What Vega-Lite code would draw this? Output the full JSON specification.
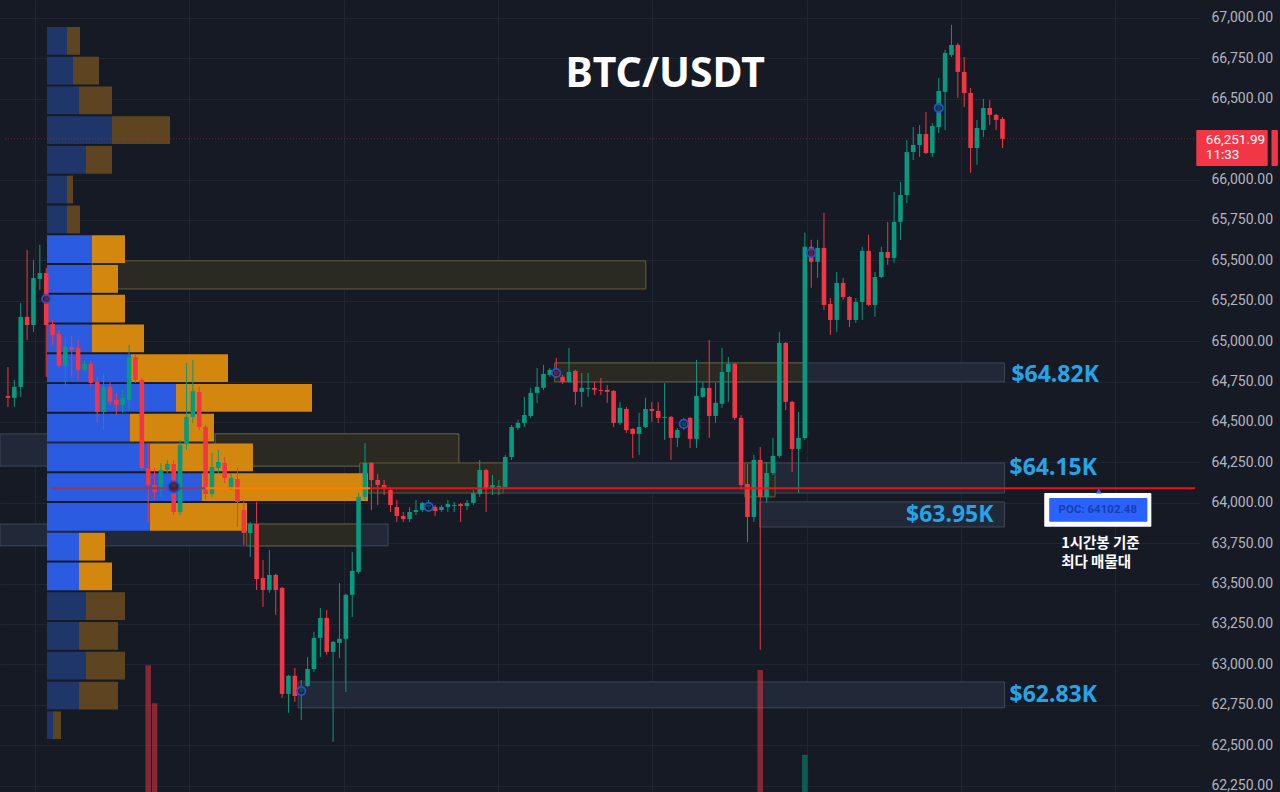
{
  "$schema": "https://vega.github.io/schema/vega-lite/v6.json",
  "width": 1200,
  "height": 792,
  "autosize": {"type": "none"},
  "padding": {"left": 0, "top": 0, "right": 80, "bottom": 0},
  "background": "#161a25",
  "config": {"view": {"stroke": null}, "font": "Roboto"},
  "datasets": {
    "zones": [
      {"kind": "fvg", "x0": -0.47, "x1": 70.9, "p0": 64227, "p1": 64426},
      {"kind": "fvg", "x0": -0.47, "x1": 59.9, "p0": 63733, "p1": 63868},
      {"kind": "fvg", "x0": 85.8, "x1": 155.8, "p0": 64748, "p1": 64865},
      {"kind": "fvg", "x0": 73.4, "x1": 155.8, "p0": 64060, "p1": 64246},
      {"kind": "fvg", "x0": 117.7, "x1": 155.8, "p0": 63850, "p1": 64005},
      {"kind": "fvg", "x0": 45.9, "x1": 155.8, "p0": 62731, "p1": 62891},
      {"kind": "ob", "x0": 13.84, "x1": 100.0, "p0": 65323, "p1": 65497},
      {"kind": "ob", "x0": 33, "x1": 70.9, "p0": 64227, "p1": 64426},
      {"kind": "ob", "x0": 37.9, "x1": 55.1, "p0": 63733, "p1": 63868},
      {"kind": "ob", "x0": 85.8, "x1": 124.9, "p0": 64748, "p1": 64865},
      {"kind": "ob", "x0": 55.5, "x1": 77.8, "p0": 64060, "p1": 64246},
      {"kind": "ob", "x0": 115.4, "x1": 120.1, "p0": 64036, "p1": 64246}
    ],
    "vol": [
      {"i": 22, "v": 160, "dir": "down"},
      {"i": 23, "v": 112, "dir": "down"},
      {"i": 118, "v": 154, "dir": "down"},
      {"i": 125, "v": 47, "dir": "up"}
    ],
    "profile": [
      {"hi": 66944, "lo": 66772, "base": 0, "buy": 20, "total": 33, "va": false},
      {"hi": 66760, "lo": 66588, "base": 0, "buy": 26, "total": 52, "va": false},
      {"hi": 66576, "lo": 66404, "base": 0, "buy": 32, "total": 65, "va": false},
      {"hi": 66392, "lo": 66220, "base": 0, "buy": 65, "total": 123, "va": false},
      {"hi": 66208, "lo": 66036, "base": 0, "buy": 39, "total": 65, "va": false},
      {"hi": 66024, "lo": 65852, "base": 0, "buy": 20, "total": 26, "va": false},
      {"hi": 65839, "lo": 65667, "base": 0, "buy": 20, "total": 33, "va": false},
      {"hi": 65655, "lo": 65483, "base": 0, "buy": 45, "total": 78, "va": true},
      {"hi": 65471, "lo": 65299, "base": 0, "buy": 45, "total": 71, "va": true},
      {"hi": 65287, "lo": 65115, "base": 0, "buy": 45, "total": 78, "va": true},
      {"hi": 65103, "lo": 64931, "base": 0, "buy": 45, "total": 97, "va": true},
      {"hi": 64919, "lo": 64747, "base": 0, "buy": 84, "total": 181, "va": true},
      {"hi": 64735, "lo": 64563, "base": 0, "buy": 129, "total": 265, "va": true},
      {"hi": 64551, "lo": 64379, "base": 0, "buy": 83, "total": 167, "va": true},
      {"hi": 64367, "lo": 64195, "base": 0, "buy": 103, "total": 206, "va": true},
      {"hi": 64182, "lo": 64010, "base": 0, "buy": 155, "total": 321, "va": true},
      {"hi": 63998, "lo": 63826, "base": 0, "buy": 103, "total": 200, "va": true},
      {"hi": 63814, "lo": 63642, "base": 0, "buy": 32, "total": 58, "va": true},
      {"hi": 63630, "lo": 63458, "base": 0, "buy": 32, "total": 65, "va": true},
      {"hi": 63446, "lo": 63274, "base": 0, "buy": 39, "total": 78, "va": false},
      {"hi": 63262, "lo": 63090, "base": 0, "buy": 32, "total": 71, "va": false},
      {"hi": 63078, "lo": 62906, "base": 0, "buy": 39, "total": 78, "va": false},
      {"hi": 62893, "lo": 62721, "base": 0, "buy": 32, "total": 71, "va": false},
      {"hi": 62709, "lo": 62537, "base": 0, "buy": 6, "total": 14, "va": false}
    ],
    "candles": [
      {"i":0,"o":64661,"h":64840,"l":64593,"c":64649},
      {"i":1,"o":64649,"h":64760,"l":64593,"c":64717},
      {"i":2,"o":64717,"h":65236,"l":64655,"c":65150},
      {"i":3,"o":65150,"h":65565,"l":65007,"c":65100},
      {"i":4,"o":65100,"h":65503,"l":65057,"c":65391},
      {"i":5,"o":65385,"h":65596,"l":65317,"c":65422},
      {"i":6,"o":65422,"h":65453,"l":64779,"c":65100},
      {"i":7,"o":65106,"h":65131,"l":64977,"c":65038},
      {"i":8,"o":65045,"h":65069,"l":64834,"c":64847},
      {"i":9,"o":64847,"h":65026,"l":64729,"c":64964},
      {"i":10,"o":64964,"h":65032,"l":64779,"c":64946},
      {"i":11,"o":64958,"h":65007,"l":64760,"c":64822},
      {"i":12,"o":64822,"h":64878,"l":64809,"c":64859},
      {"i":13,"o":64859,"h":64878,"l":64717,"c":64741},
      {"i":14,"o":64748,"h":64779,"l":64494,"c":64562},
      {"i":15,"o":64562,"h":64803,"l":64450,"c":64717},
      {"i":16,"o":64717,"h":64748,"l":64605,"c":64624},
      {"i":17,"o":64636,"h":64680,"l":64543,"c":64605},
      {"i":18,"o":64605,"h":64698,"l":64556,"c":64649},
      {"i":19,"o":64636,"h":64977,"l":64574,"c":64902},
      {"i":20,"o":64902,"h":64915,"l":64741,"c":64760},
      {"i":21,"o":64760,"h":64772,"l":64203,"c":64215},
      {"i":22,"o":64215,"h":64370,"l":63881,"c":64110},
      {"i":23,"o":64110,"h":64215,"l":64017,"c":64067},
      {"i":24,"o":64079,"h":64246,"l":64036,"c":64203},
      {"i":25,"o":64203,"h":64265,"l":64184,"c":64240},
      {"i":26,"o":64240,"h":64265,"l":63924,"c":63943},
      {"i":27,"o":63943,"h":64389,"l":63924,"c":64358},
      {"i":28,"o":64364,"h":64865,"l":64327,"c":64531},
      {"i":29,"o":64531,"h":64884,"l":64494,"c":64692},
      {"i":30,"o":64686,"h":64717,"l":64450,"c":64469},
      {"i":31,"o":64469,"h":64481,"l":64017,"c":64054},
      {"i":32,"o":64054,"h":64308,"l":64036,"c":64221},
      {"i":33,"o":64215,"h":64327,"l":64184,"c":64252},
      {"i":34,"o":64246,"h":64283,"l":64122,"c":64153},
      {"i":35,"o":64098,"h":64184,"l":64079,"c":64153},
      {"i":36,"o":64147,"h":64215,"l":63850,"c":64005},
      {"i":37,"o":63955,"h":64017,"l":63739,"c":63813},
      {"i":38,"o":63813,"h":63881,"l":63664,"c":63868},
      {"i":39,"o":63868,"h":64005,"l":63460,"c":63528},
      {"i":40,"o":63534,"h":63646,"l":63356,"c":63460},
      {"i":41,"o":63460,"h":63708,"l":63442,"c":63553},
      {"i":42,"o":63553,"h":63560,"l":63306,"c":63460},
      {"i":43,"o":63473,"h":63480,"l":62792,"c":62817},
      {"i":44,"o":62817,"h":62935,"l":62700,"c":62929},
      {"i":45,"o":62929,"h":62978,"l":62768,"c":62804},
      {"i":46,"o":62829,"h":62903,"l":62656,"c":62854},
      {"i":47,"o":62866,"h":63045,"l":62860,"c":62971},
      {"i":48,"o":62971,"h":63201,"l":62953,"c":63164},
      {"i":49,"o":63164,"h":63349,"l":63045,"c":63287},
      {"i":50,"o":63287,"h":63337,"l":63058,"c":63077},
      {"i":51,"o":63077,"h":63145,"l":62520,"c":63139},
      {"i":52,"o":63133,"h":63503,"l":63039,"c":63158},
      {"i":53,"o":63158,"h":63436,"l":62829,"c":63430},
      {"i":54,"o":63430,"h":63696,"l":63293,"c":63578},
      {"i":55,"o":63572,"h":64060,"l":63560,"c":64036},
      {"i":56,"o":64036,"h":64370,"l":64017,"c":64246},
      {"i":57,"o":64246,"h":64252,"l":63955,"c":64141},
      {"i":58,"o":64141,"h":64178,"l":63986,"c":64110},
      {"i":59,"o":64110,"h":64141,"l":64048,"c":64092},
      {"i":60,"o":64079,"h":64092,"l":63943,"c":63986},
      {"i":61,"o":63974,"h":64017,"l":63881,"c":63918},
      {"i":62,"o":63918,"h":63943,"l":63881,"c":63899},
      {"i":63,"o":63899,"h":63974,"l":63881,"c":63943},
      {"i":64,"o":63943,"h":64017,"l":63924,"c":63955},
      {"i":65,"o":63955,"h":64005,"l":63943,"c":63999},
      {"i":66,"o":63974,"h":64017,"l":63955,"c":63986},
      {"i":67,"o":63974,"h":63986,"l":63918,"c":63949},
      {"i":68,"o":63955,"h":63986,"l":63943,"c":63974},
      {"i":69,"o":63974,"h":64017,"l":63943,"c":63992},
      {"i":70,"o":63980,"h":64005,"l":63943,"c":63986},
      {"i":71,"o":63992,"h":63999,"l":63881,"c":63980},
      {"i":72,"o":63980,"h":64017,"l":63955,"c":63999},
      {"i":73,"o":63999,"h":64079,"l":63986,"c":64060},
      {"i":74,"o":64054,"h":64265,"l":64036,"c":64203},
      {"i":75,"o":64203,"h":64209,"l":63943,"c":64092},
      {"i":76,"o":64092,"h":64172,"l":64048,"c":64110},
      {"i":77,"o":64098,"h":64141,"l":64048,"c":64104},
      {"i":78,"o":64098,"h":64296,"l":64092,"c":64283},
      {"i":79,"o":64283,"h":64481,"l":64265,"c":64469},
      {"i":80,"o":64463,"h":64512,"l":64450,"c":64494},
      {"i":81,"o":64494,"h":64655,"l":64469,"c":64543},
      {"i":82,"o":64537,"h":64711,"l":64525,"c":64680},
      {"i":83,"o":64680,"h":64834,"l":64618,"c":64717},
      {"i":84,"o":64711,"h":64853,"l":64698,"c":64797},
      {"i":85,"o":64791,"h":64834,"l":64779,"c":64822},
      {"i":86,"o":64816,"h":64896,"l":64772,"c":64791},
      {"i":87,"o":64779,"h":64791,"l":64735,"c":64748},
      {"i":88,"o":64748,"h":64958,"l":64741,"c":64809},
      {"i":89,"o":64816,"h":64822,"l":64605,"c":64686},
      {"i":90,"o":64686,"h":64803,"l":64593,"c":64711},
      {"i":91,"o":64705,"h":64803,"l":64655,"c":64711},
      {"i":92,"o":64711,"h":64748,"l":64667,"c":64698},
      {"i":93,"o":64698,"h":64772,"l":64667,"c":64692},
      {"i":94,"o":64698,"h":64729,"l":64618,"c":64686},
      {"i":95,"o":64692,"h":64698,"l":64469,"c":64494},
      {"i":96,"o":64494,"h":64624,"l":64481,"c":64587},
      {"i":97,"o":64580,"h":64593,"l":64432,"c":64450},
      {"i":98,"o":64457,"h":64463,"l":64277,"c":64426},
      {"i":99,"o":64426,"h":64556,"l":64296,"c":64469},
      {"i":100,"o":64469,"h":64649,"l":64463,"c":64580},
      {"i":101,"o":64580,"h":64624,"l":64500,"c":64568},
      {"i":102,"o":64568,"h":64624,"l":64494,"c":64525},
      {"i":103,"o":64525,"h":64741,"l":64389,"c":64531},
      {"i":104,"o":64531,"h":64537,"l":64265,"c":64401},
      {"i":105,"o":64401,"h":64463,"l":64345,"c":64450},
      {"i":106,"o":64475,"h":64525,"l":64450,"c":64500},
      {"i":107,"o":64525,"h":64531,"l":64339,"c":64395},
      {"i":108,"o":64395,"h":64884,"l":64339,"c":64661},
      {"i":109,"o":64655,"h":64748,"l":64649,"c":64711},
      {"i":110,"o":64711,"h":65007,"l":64401,"c":64537},
      {"i":111,"o":64537,"h":64741,"l":64494,"c":64618},
      {"i":112,"o":64612,"h":64958,"l":64587,"c":64809},
      {"i":113,"o":64809,"h":64902,"l":64624,"c":64859},
      {"i":114,"o":64859,"h":64865,"l":64512,"c":64525},
      {"i":115,"o":64525,"h":64543,"l":64079,"c":64110},
      {"i":116,"o":64116,"h":64240,"l":63757,"c":63912},
      {"i":117,"o":63912,"h":64296,"l":63881,"c":64265},
      {"i":118,"o":64265,"h":64345,"l":63090,"c":64036},
      {"i":119,"o":64036,"h":64252,"l":63999,"c":64184},
      {"i":120,"o":64184,"h":64401,"l":64172,"c":64290},
      {"i":121,"o":64290,"h":65057,"l":64277,"c":64989},
      {"i":122,"o":64989,"h":64995,"l":64574,"c":64624},
      {"i":123,"o":64624,"h":64630,"l":64190,"c":64333},
      {"i":124,"o":64333,"h":64562,"l":64060,"c":64401},
      {"i":125,"o":64401,"h":65671,"l":64389,"c":65584},
      {"i":126,"o":65584,"h":65627,"l":65330,"c":65491},
      {"i":127,"o":65491,"h":65627,"l":65391,"c":65577},
      {"i":128,"o":65577,"h":65794,"l":65193,"c":65224},
      {"i":129,"o":65230,"h":65267,"l":65038,"c":65131},
      {"i":130,"o":65131,"h":65428,"l":65057,"c":65360},
      {"i":131,"o":65360,"h":65391,"l":65255,"c":65273},
      {"i":132,"o":65273,"h":65280,"l":65088,"c":65131},
      {"i":133,"o":65131,"h":65267,"l":65113,"c":65242},
      {"i":134,"o":65242,"h":65584,"l":65131,"c":65559},
      {"i":135,"o":65559,"h":65658,"l":65218,"c":65224},
      {"i":136,"o":65224,"h":65428,"l":65150,"c":65397},
      {"i":137,"o":65397,"h":65584,"l":65391,"c":65552},
      {"i":138,"o":65552,"h":65738,"l":65472,"c":65515},
      {"i":139,"o":65515,"h":65923,"l":65484,"c":65738},
      {"i":140,"o":65738,"h":65985,"l":65626,"c":65904},
      {"i":141,"o":65904,"h":66245,"l":65855,"c":66170},
      {"i":142,"o":66170,"h":66325,"l":66121,"c":66214},
      {"i":143,"o":66214,"h":66337,"l":66140,"c":66282},
      {"i":144,"o":66282,"h":66418,"l":66158,"c":66164},
      {"i":145,"o":66164,"h":66350,"l":66140,"c":66331},
      {"i":146,"o":66325,"h":66628,"l":66288,"c":66548},
      {"i":147,"o":66542,"h":66802,"l":66307,"c":66783},
      {"i":148,"o":66771,"h":66957,"l":66758,"c":66833},
      {"i":149,"o":66833,"h":66845,"l":66505,"c":66666},
      {"i":150,"o":66666,"h":66758,"l":66449,"c":66536},
      {"i":151,"o":66536,"h":66567,"l":66041,"c":66195},
      {"i":152,"o":66195,"h":66369,"l":66091,"c":66319},
      {"i":153,"o":66307,"h":66499,"l":66263,"c":66443},
      {"i":154,"o":66443,"h":66492,"l":66337,"c":66400},
      {"i":155,"o":66400,"h":66406,"l":66307,"c":66369},
      {"i":156,"o":66375,"h":66387,"l":66195,"c":66252}
    ],
    "markers": [
      {"i": 6, "p": 65261, "big": false},
      {"i": 26, "p": 64098, "big": true},
      {"i": 46, "p": 62835, "big": false},
      {"i": 66, "p": 63974, "big": false},
      {"i": 86, "p": 64803, "big": false},
      {"i": 106, "p": 64488, "big": false},
      {"i": 126, "p": 65546, "big": false},
      {"i": 146, "p": 66443, "big": false}
    ],
    "poc": [
      {"seg": "inBuy", "x0": 6.84, "x1": 30.96, "p": 64090},
      {"seg": "inSell", "x0": 30.96, "x1": 56.8, "p": 64090},
      {"seg": "out", "x0": 56.8, "x1": 186.2, "p": 64090}
    ],
    "lastPrice": [{"p": 66252, "x0": -0.467, "x1": 186.2}],
    "pointer": [{"i": 171.1, "p": 64073}],
    "boxes": [
      {"kind": "tag", "x0": 186.4, "x1": 197.6, "p0": 66084, "p1": 66307},
      {"kind": "tag", "x0": 198.2, "x1": 199.2, "p0": 66084, "p1": 66307},
      {"kind": "pocOuter", "x0": 162.55, "x1": 179.35, "p0": 63851, "p1": 64060},
      {"kind": "pocInner", "x0": 163.33, "x1": 178.73, "p0": 63882, "p1": 64030}
    ],
    "notes": [
      {"kind": "title", "text": "BTC/USDT", "i": 103.1, "p": 66647},
      {"kind": "level", "text": "$64.82K", "i": 157.4, "p": 64791},
      {"kind": "level", "text": "$64.15K", "i": 157.1, "p": 64215},
      {"kind": "levelR", "text": "$63.95K", "i": 154.6, "p": 63924},
      {"kind": "level", "text": "$62.83K", "i": 157.1, "p": 62811},
      {"kind": "poc", "text": "POC: 64102.48", "i": 170.95, "p": 63955},
      {"kind": "ko", "text": "1시간봉 기준", "i": 165.2, "p": 63745},
      {"kind": "ko", "text": "최다 매물대", "i": 165.2, "p": 63627},
      {"kind": "tag", "text": "66,251.99", "i": 187.9, "p": 66245},
      {"kind": "tag", "text": "11:33", "i": 187.9, "p": 66150}
    ]
  },
  "layer": [
    {
      "data": {"name": "zones"},
      "mark": {"type": "rect", "strokeWidth": 1},
      "encoding": {
        "x": {"field": "x0", "type": "quantitative",
          "scale": {"domain": [-0.467, 186.2], "nice": false, "zero": false},
          "axis": {"orient": "bottom", "values": [5, 29, 53, 77, 101, 125, 149, 173], "labels": false, "ticks": false, "domain": false, "grid": true, "gridColor": "#212532", "title": null}},
        "x2": {"field": "x1"},
        "y": {"field": "p0", "type": "quantitative",
          "scale": {"domain": [62210, 67111], "nice": false, "zero": false},
          "axis": {"orient": "right", "values": [62250, 62500, 62750, 63000, 63250, 63500, 63750, 64000, 64250, 64500, 64750, 65000, 65250, 65500, 65750, 66000, 66500, 66750, 67000], "format": ",.2f", "labelColor": "#b2b5be", "labelFont": "Roboto", "labelFontSize": 14, "labelPadding": 11, "labelFlush": false, "labelOverlap": false, "ticks": false, "domain": false, "grid": true, "gridColor": "#212532", "title": null}},
        "y2": {"field": "p1"},
        "fill": {"condition": {"test": "datum.kind == 'ob'", "value": "#2a2a22"}, "value": "#212837"},
        "stroke": {"condition": {"test": "datum.kind == 'ob'", "value": "#625d36"}, "value": "#3f4759"}
      }
    },
    {
      "data": {"name": "vol"},
      "mark": {"type": "bar", "width": 5.5, "opacity": 0.5},
      "encoding": {
        "x": {"field": "i", "type": "quantitative", "scale": {"domain": [-0.467, 186.2], "nice": false, "zero": false}, "axis": null},
        "y": {"field": "v", "type": "quantitative", "scale": {"domain": [0, 1000], "nice": false}, "axis": null},
        "color": {"condition": {"test": "datum.dir == 'up'", "value": "#089981"}, "value": "#f23645"}
      }
    },
    {
      "data": {"name": "profile"},
      "layer": [
        {
          "mark": {"type": "rect"},
          "encoding": {
            "x": {"field": "base", "type": "quantitative", "scale": {"domain": [-47, 1153], "nice": false, "zero": false}, "axis": null},
            "x2": {"field": "buy"},
            "y": {"field": "hi", "type": "quantitative", "scale": {"domain": [62210, 67111], "nice": false, "zero": false}, "axis": null},
            "y2": {"field": "lo"},
            "color": {"condition": {"test": "datum.va", "value": "#2b5be0"}, "value": "#1e3669"}
          }
        },
        {
          "mark": {"type": "rect"},
          "encoding": {
            "x": {"field": "buy", "type": "quantitative", "axis": null},
            "x2": {"field": "total"},
            "y": {"field": "hi", "type": "quantitative", "axis": null},
            "y2": {"field": "lo"},
            "color": {"condition": {"test": "datum.va", "value": "#d4870f"}, "value": "#5e4421"}
          }
        }
      ]
    },
    {
      "layer": [
        {
          "data": {"name": "candles"},
          "mark": {"type": "rule", "strokeWidth": 1},
          "encoding": {
            "x": {"field": "i", "type": "quantitative", "scale": {"domain": [-0.467, 186.2], "nice": false, "zero": false}, "axis": null},
            "y": {"field": "l", "type": "quantitative", "scale": {"domain": [62210, 67111], "nice": false, "zero": false}, "axis": null},
            "y2": {"field": "h"},
            "color": {"condition": {"test": "datum.c >= datum.o", "value": "#089981"}, "value": "#f23645"}
          }
        },
        {
          "data": {"name": "candles"},
          "mark": {"type": "bar", "width": 4.6},
          "encoding": {
            "x": {"field": "i", "type": "quantitative", "axis": null},
            "y": {"field": "o", "type": "quantitative", "axis": null},
            "y2": {"field": "c"},
            "color": {"condition": {"test": "datum.c >= datum.o", "value": "#089981"}, "value": "#f23645"}
          }
        },
        {
          "data": {"name": "lastPrice"},
          "mark": {"type": "rule", "strokeWidth": 1, "strokeDash": [1, 2], "opacity": 0.4, "color": "#f23645"},
          "encoding": {
            "x": {"field": "x0", "type": "quantitative", "axis": null},
            "x2": {"field": "x1"},
            "y": {"field": "p", "type": "quantitative", "axis": null}
          }
        },
        {
          "data": {"name": "poc"},
          "mark": {"type": "rule", "strokeWidth": 2},
          "encoding": {
            "x": {"field": "x0", "type": "quantitative", "axis": null},
            "x2": {"field": "x1"},
            "y": {"field": "p", "type": "quantitative", "axis": null},
            "color": {"condition": [{"test": "datum.seg == 'inBuy'", "value": "#8a3a66"}, {"test": "datum.seg == 'inSell'", "value": "#ff7b00"}], "value": "#e3141c"}
          }
        },
        {
          "data": {"name": "markers"},
          "mark": {"type": "point", "shape": "circle", "filled": false, "strokeWidth": 1.8, "stroke": "#2450d8", "fill": "#10131c", "fillOpacity": 0.6, "opacity": 1},
          "encoding": {
            "x": {"field": "i", "type": "quantitative", "axis": null},
            "y": {"field": "p", "type": "quantitative", "axis": null},
            "size": {"condition": {"test": "datum.big", "value": 130}, "value": 70}
          }
        },
        {
          "data": {"name": "boxes"},
          "mark": {"type": "rect", "cornerRadius": 1},
          "encoding": {
            "x": {"field": "x0", "type": "quantitative", "axis": null},
            "x2": {"field": "x1"},
            "y": {"field": "p0", "type": "quantitative", "axis": null},
            "y2": {"field": "p1"},
            "color": {"condition": [{"test": "datum.kind == 'tag'", "value": "#f23645"}, {"test": "datum.kind == 'pocOuter'", "value": "#ffffff"}], "value": "#2962ff"}
          }
        },
        {
          "data": {"name": "pointer"},
          "mark": {"type": "point", "shape": "triangle-up", "filled": true, "size": 35, "color": "#2962ff", "opacity": 1},
          "encoding": {
            "x": {"field": "i", "type": "quantitative", "axis": null},
            "y": {"field": "p", "type": "quantitative", "axis": null}
          }
        },
        {
          "data": {"name": "notes"},
          "transform": [{"filter": "datum.kind == 'title'"}],
          "mark": {"type": "text", "font": "Noto Sans", "fontWeight": "bold", "fontSize": 41, "color": "#ffffff", "align": "center", "baseline": "middle"},
          "encoding": {
            "x": {"field": "i", "type": "quantitative", "axis": null},
            "y": {"field": "p", "type": "quantitative", "axis": null},
            "text": {"field": "text", "type": "nominal"}
          }
        },
        {
          "data": {"name": "notes"},
          "transform": [{"filter": "datum.kind == 'level'"}],
          "mark": {"type": "text", "font": "Noto Sans", "fontWeight": "bold", "fontSize": 23, "color": "#25a4e8", "align": "left", "baseline": "middle"},
          "encoding": {
            "x": {"field": "i", "type": "quantitative", "axis": null},
            "y": {"field": "p", "type": "quantitative", "axis": null},
            "text": {"field": "text", "type": "nominal"}
          }
        },
        {
          "data": {"name": "notes"},
          "transform": [{"filter": "datum.kind == 'levelR'"}],
          "mark": {"type": "text", "font": "Noto Sans", "fontWeight": "bold", "fontSize": 23, "color": "#25a4e8", "align": "right", "baseline": "middle"},
          "encoding": {
            "x": {"field": "i", "type": "quantitative", "axis": null},
            "y": {"field": "p", "type": "quantitative", "axis": null},
            "text": {"field": "text", "type": "nominal"}
          }
        },
        {
          "data": {"name": "notes"},
          "transform": [{"filter": "datum.kind == 'poc'"}],
          "mark": {"type": "text", "font": "Roboto", "fontWeight": "bold", "fontSize": 11.5, "color": "#1c3ea8", "align": "center", "baseline": "middle"},
          "encoding": {
            "x": {"field": "i", "type": "quantitative", "axis": null},
            "y": {"field": "p", "type": "quantitative", "axis": null},
            "text": {"field": "text", "type": "nominal"}
          }
        },
        {
          "data": {"name": "notes"},
          "transform": [{"filter": "datum.kind == 'ko'"}],
          "mark": {"type": "text", "font": "Noto Sans CJK KR", "fontWeight": "bold", "fontSize": 14.5, "color": "#ffffff", "align": "left", "baseline": "middle"},
          "encoding": {
            "x": {"field": "i", "type": "quantitative", "axis": null},
            "y": {"field": "p", "type": "quantitative", "axis": null},
            "text": {"field": "text", "type": "nominal"}
          }
        },
        {
          "data": {"name": "notes"},
          "transform": [{"filter": "datum.kind == 'tag'"}],
          "mark": {"type": "text", "font": "Roboto", "fontSize": 13.5, "color": "#ffffff", "align": "left", "baseline": "middle"},
          "encoding": {
            "x": {"field": "i", "type": "quantitative", "axis": null},
            "y": {"field": "p", "type": "quantitative", "axis": null},
            "text": {"field": "text", "type": "nominal"}
          }
        }
      ]
    }
  ],
  "resolve": {"scale": {"x": "independent", "y": "independent"}, "axis": {"x": "independent", "y": "independent"}}
}
